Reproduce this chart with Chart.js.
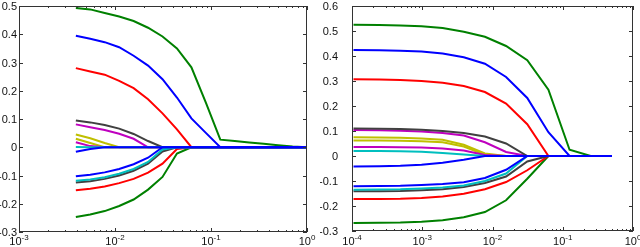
<!DOCTYPE html>
<html>
<head>
<meta charset="utf-8">
<script src="https://cdn.jsdelivr.net/npm/chart.js@4.4.1/dist/chart.umd.min.js"></script>
<style>
  html, body { margin: 0; padding: 0; background: #fff; }
  #wrap { position: relative; width: 640px; height: 247px; overflow: hidden; }
  canvas { position: absolute; top: 0; }
</style>
</head>
<body>
<div id="wrap">
  <canvas id="left" width="320" height="247" style="left:0"></canvas>
  <canvas id="right" width="320" height="247" style="left:320px"></canvas>
</div>
<script>
// regularisation paths
const leftLambda = [0.00391, 0.00552, 0.00781, 0.01105, 0.01563, 0.0221, 0.03125, 0.04419, 0.0625,
    0.08839, 0.125, 0.17678, 0.25, 0.35355, 0.5, 0.70711, 1];
const leftGreenTop = [0.493, 0.488, 0.475, 0.463, 0.447, 0.423, 0.392, 0.35, 0.283, 0.158, 0.027, 0.022, 0.017, 0.012, 0.007, 0.0025, 0];
const leftBlueTop = [0.395, 0.384, 0.372, 0.354, 0.324, 0.289, 0.241, 0.176, 0.102, 0.051, 0, 0, 0, 0, 0, 0, 0];
const leftRedTop = [0.28, 0.268, 0.257, 0.235, 0.209, 0.17, 0.12, 0.063, 0, 0, 0, 0, 0, 0, 0, 0, 0];
const leftGreyTop = [0.095, 0.088, 0.079, 0.066, 0.047, 0.022, 0, 0, 0, 0, 0, 0, 0, 0, 0, 0, 0];
const leftMagentaTop = [0.081, 0.071, 0.061, 0.048, 0.03, 0, 0, 0, 0, 0, 0, 0, 0, 0, 0, 0, 0];
const leftYellowTop = [0.045, 0.032, 0.015, 0, 0, 0, 0, 0, 0, 0, 0, 0, 0, 0, 0, 0, 0];
const leftYellowLow = [0.03, 0.015, 0, 0, 0, 0, 0, 0, 0, 0, 0, 0, 0, 0, 0, 0, 0];
const leftMagentaLow = [0.018, 0.004, 0, 0, 0, 0, 0, 0, 0, 0, 0, 0, 0, 0, 0, 0, 0];
const leftCyanTop = [0.001, 0, 0, 0, 0, 0, 0, 0, 0, 0, 0, 0, 0, 0, 0, 0, 0];
const leftBlueSmall = [-0.016, -0.006, 0, 0, 0, 0, 0, 0, 0, 0, 0, 0, 0, 0, 0, 0, 0];
const leftBlueLow = [-0.103, -0.097, -0.089, -0.077, -0.06, -0.037, 0, 0, 0, 0, 0, 0, 0, 0, 0, 0, 0];
const leftCyanLow = [-0.119, -0.114, -0.106, -0.094, -0.077, -0.052, -0.008, 0, 0, 0, 0, 0, 0, 0, 0, 0, 0];
const leftGreyLow = [-0.125, -0.12, -0.112, -0.1, -0.083, -0.058, -0.015, 0, 0, 0, 0, 0, 0, 0, 0, 0, 0];
const leftRedLow = [-0.152, -0.147, -0.139, -0.127, -0.112, -0.09, -0.058, -0.006, 0, 0, 0, 0, 0, 0, 0, 0, 0];
const leftGreenLow = [-0.247, -0.238, -0.226, -0.208, -0.185, -0.15, -0.105, -0.022, 0, 0, 0, 0, 0, 0, 0, 0, 0];

const rightLambda = [0.000105, 0.000244, 0.000488, 0.000977, 0.00195, 0.0039, 0.0078, 0.0156, 0.03125,
    0.0625, 0.125, 0.25, 0.5];
const rightGreenTop = [0.525, 0.524, 0.522, 0.519, 0.512, 0.497, 0.477, 0.44, 0.383, 0.265, 0.025, 0, 0];
const rightBlueTop = [0.424, 0.423, 0.421, 0.418, 0.41, 0.395, 0.369, 0.316, 0.232, 0.095, 0, 0, 0];
const rightRedTop = [0.307, 0.306, 0.304, 0.3, 0.293, 0.28, 0.256, 0.21, 0.127, 0, 0, 0, 0];
const rightGreyTop = [0.11, 0.109, 0.108, 0.105, 0.1, 0.092, 0.078, 0.05, 0, 0, 0, 0, 0];
const rightMagentaTop = [0.104, 0.103, 0.101, 0.098, 0.092, 0.082, 0.055, 0.016, 0, 0, 0, 0, 0];
const rightYellowTop = [0.075, 0.074, 0.073, 0.07, 0.065, 0.045, 0.01, 0, 0, 0, 0, 0, 0];
const rightYellowLow = [0.062, 0.062, 0.061, 0.059, 0.055, 0.038, 0.005, 0, 0, 0, 0, 0, 0];
const rightMagentaLow = [0.036, 0.036, 0.035, 0.034, 0.03, 0.022, 0.004, 0, 0, 0, 0, 0, 0];
const rightCyanTop = [0.02, 0.02, 0.019, 0.017, 0.012, 0.006, 0, 0, 0, 0, 0, 0, 0];
const rightBlueSmall = [-0.042, -0.041, -0.039, -0.035, -0.027, -0.015, 0, 0, 0, 0, 0, 0, 0];
const rightBlueLow = [-0.121, -0.12, -0.119, -0.116, -0.112, -0.105, -0.088, -0.055, 0, 0, 0, 0, 0];
const rightCyanLow = [-0.135, -0.134, -0.133, -0.13, -0.126, -0.118, -0.1, -0.07, 0, 0, 0, 0, 0];
const rightGreyLow = [-0.141, -0.141, -0.14, -0.137, -0.133, -0.124, -0.108, -0.082, -0.022, 0, 0, 0, 0];
const rightRedLow = [-0.172, -0.172, -0.171, -0.168, -0.162, -0.151, -0.133, -0.104, -0.057, 0, 0, 0, 0];
const rightGreenLow = [-0.268, -0.267, -0.266, -0.263, -0.257, -0.245, -0.224, -0.177, -0.091, 0, 0, 0, 0];

const leftYTicks = [-0.3, -0.2, -0.1, 0, 0.1, 0.2, 0.3, 0.4, 0.5];
const rightYTicks = [-0.3, -0.2, -0.1, 0, 0.1, 0.2, 0.3, 0.4, 0.5, 0.6];
const leftDecades = [-3, -2, -1, 0];
const rightDecades = [-4, -3, -2, -1, 0];

const GREEN = "#008000", BLUE = "#0000ff", RED = "#ff0000", CYAN = "#00bfbf",
    MAGENTA = "#bf00bf", YELLOW = "#bfbf00", GREY = "#404040";

// first dataset is painted last, so the blues sit on top of the zero line
const series = (xs, list) => list.map(([color, ys]) => ({
    data: xs.map((x, i) => ({ x: x, y: ys[i] })),
    borderColor: color,
    borderWidth: 2,
    pointRadius: 0,
    tension: 0,
    fill: false,
}));

const fmtY = (v) => (Math.round(v * 10) / 10).toString();

const frame = {
    id: "frame",
    afterDraw(chart, args, opts) {
        const ctx = chart.ctx;
        const a = chart.chartArea;
        const xs = chart.scales.x, ys = chart.scales.y;
        ctx.save();
        ctx.strokeStyle = "#333";
        ctx.lineWidth = 1;
        ctx.strokeRect(Math.round(a.left) + 0.5, Math.round(a.top) + 0.5,
            Math.round(a.right - a.left) - 1, Math.round(a.bottom - a.top) - 1);

        // y ticks, inside on both sides
        ctx.fillStyle = "#111";
        ctx.font = "11px 'Liberation Sans', Arial, sans-serif";
        ctx.textAlign = "right";
        ctx.textBaseline = "middle";
        ctx.beginPath();
        opts.yTicks.forEach((v) => {
            const py = Math.round(ys.getPixelForValue(v)) + 0.5;
            ctx.moveTo(a.left, py); ctx.lineTo(a.left + 4, py);
            ctx.moveTo(a.right, py); ctx.lineTo(a.right - 4, py);
            ctx.fillText(fmtY(v), opts.labelRight, py);
        });
        // x ticks, majors at decades, minors in between
        opts.decades.forEach((d) => {
            for (let m = 1; m <= 9; m++) {
                const val = m * Math.pow(10, d);
                if (val < xs.min * 0.999 || val > xs.max * 1.001) continue;
                const px = Math.round(xs.getPixelForValue(val)) + 0.5;
                const len = m === 1 ? 4 : 2;
                ctx.moveTo(px, a.bottom); ctx.lineTo(px, a.bottom - len);
                ctx.moveTo(px, a.top); ctx.lineTo(px, a.top + len);
            }
        });
        ctx.stroke();

        // decade labels as 10 with a raised exponent
        ctx.textBaseline = "alphabetic";
        ctx.textAlign = "left";
        opts.decades.forEach((d) => {
            const px = xs.getPixelForValue(Math.pow(10, d));
            ctx.font = "11px 'Liberation Sans', Arial, sans-serif";
            const base = ctx.measureText("10").width;
            ctx.font = "8px 'Liberation Sans', Arial, sans-serif";
            const sup = ctx.measureText(String(d)).width;
            const x0 = px - (base + sup) / 2;
            ctx.font = "11px 'Liberation Sans', Arial, sans-serif";
            ctx.fillText("10", x0, 245);
            ctx.font = "8px 'Liberation Sans', Arial, sans-serif";
            ctx.fillText(String(d), x0 + base, 240);
        });
        ctx.restore();
    },
};

const buildChart = (id, xs, list, xMin, xMax, yMin, yMax, padding, yTicks, decades, labelRight) => {
    return new Chart(document.getElementById(id), {
        type: "line",
        data: { datasets: series(xs, list) },
        options: {
            responsive: false,
            animation: false,
            devicePixelRatio: 1,
            layout: { padding: padding },
            plugins: { legend: { display: false }, tooltip: { enabled: false },
                frame: { yTicks: yTicks, decades: decades, labelRight: labelRight } },
            scales: {
                x: { type: "logarithmic", min: xMin, max: xMax, display: false },
                y: { type: "linear", min: yMin, max: yMax, display: false },
            },
        },
        plugins: [frame],
    });
};

buildChart("left", leftLambda, [
    [BLUE, leftBlueSmall], [BLUE, leftBlueLow], [BLUE, leftBlueTop],
    [CYAN, leftCyanTop], [CYAN, leftCyanLow], [GREY, leftGreyLow], [GREY, leftGreyTop],
    [MAGENTA, leftMagentaTop], [MAGENTA, leftMagentaLow], [YELLOW, leftYellowTop], [YELLOW, leftYellowLow],
    [RED, leftRedTop], [RED, leftRedLow], [GREEN, leftGreenTop], [GREEN, leftGreenLow],
], 0.001, 1, -0.3, 0.5, { left: 19, right: 13, top: 6, bottom: 15 }, leftYTicks, leftDecades, 17);

buildChart("right", rightLambda, [
    [BLUE, rightBlueSmall], [BLUE, rightBlueLow], [BLUE, rightBlueTop],
    [CYAN, rightCyanTop], [CYAN, rightCyanLow], [GREY, rightGreyLow], [GREY, rightGreyTop],
    [MAGENTA, rightMagentaTop], [MAGENTA, rightMagentaLow], [YELLOW, rightYellowTop], [YELLOW, rightYellowLow],
    [RED, rightRedTop], [RED, rightRedLow], [GREEN, rightGreenTop], [GREEN, rightGreenLow],
], 0.0001, 1, -0.3, 0.6, { left: 32, right: 7, top: 6, bottom: 16 }, rightYTicks, rightDecades, 18);
</script>
</body>
</html>
